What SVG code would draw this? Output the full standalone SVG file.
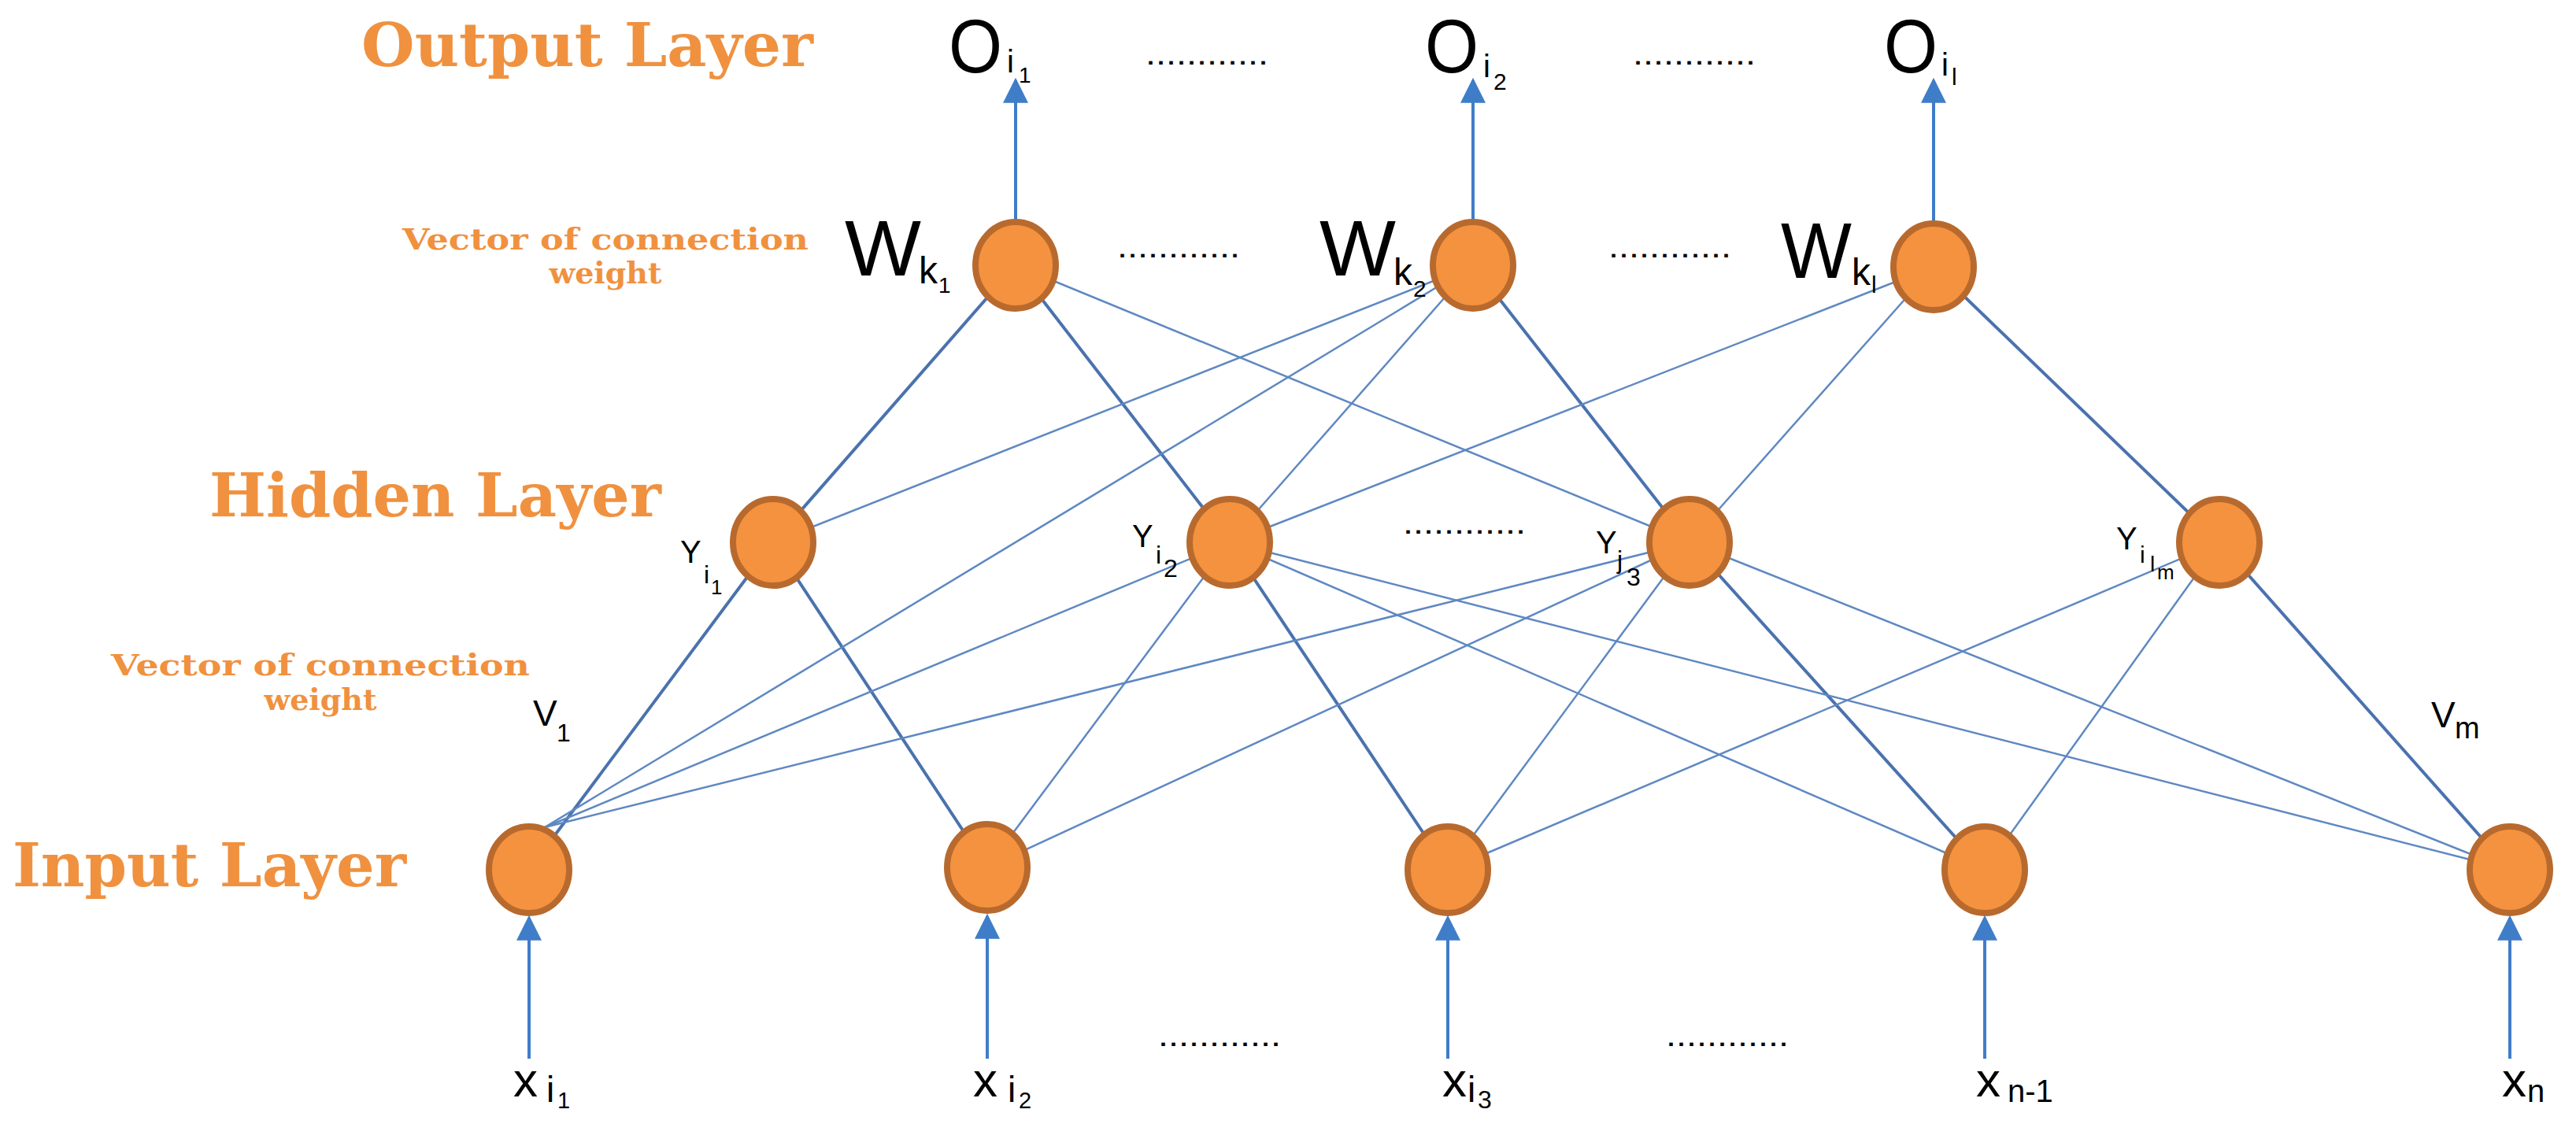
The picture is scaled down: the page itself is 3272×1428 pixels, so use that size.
<svg xmlns="http://www.w3.org/2000/svg" width="3272" height="1428" viewBox="0 0 3272 1428">
<style>
.node{fill:#F4923F;stroke:#B86A2E;stroke-width:8}
.thick{stroke:#4A72AE;stroke-width:4;fill:none}
.thin{stroke:#5F88C2;stroke-width:2.5;fill:none}
.arr{stroke:#3F7DC8;stroke-width:4;fill:none}
.lab{font-family:"DejaVu Serif","Liberation Serif",serif;font-weight:bold;fill:#F0913F}
.m{font-family:"Liberation Sans",Arial,sans-serif;fill:#000}
.dots{font-family:"Liberation Sans",Arial,sans-serif;font-size:40px;fill:#000}
</style>
<defs>
<marker id="ah" viewBox="0 0 10 10" refX="9" refY="5" markerWidth="8" markerHeight="8.5" orient="auto" markerUnits="strokeWidth">
<path d="M0,0 L10,5 L0,10 z" fill="#3F7DC8"/>
</marker>
</defs>
<rect width="3272" height="1428" fill="#fff"/>
<g id="connectors">
<line class="thick" x1="1290" y1="337" x2="982" y2="689"/>
<line class="thick" x1="1290" y1="337" x2="1562" y2="689"/>
<line class="thick" x1="1871" y1="337" x2="2146" y2="689"/>
<line class="thick" x1="2456" y1="339" x2="2819" y2="689"/>
<line class="thick" x1="982" y1="689" x2="672" y2="1105"/>
<line class="thick" x1="982" y1="689" x2="1254" y2="1102"/>
<line class="thick" x1="1562" y1="689" x2="1839" y2="1105"/>
<line class="thick" x1="2146" y1="689" x2="2521" y2="1105"/>
<line class="thick" x1="2819" y1="689" x2="3188" y2="1105"/>
<line class="thin" x1="1290" y1="337" x2="2146" y2="689"/>
<line class="thin" x1="1871" y1="337" x2="982" y2="689"/>
<line class="thin" x1="1871" y1="337" x2="1562" y2="689"/>
<line class="thin" x1="1871" y1="337" x2="692" y2="1051"/>
<line class="thin" x1="2456" y1="339" x2="1562" y2="689"/>
<line class="thin" x1="2456" y1="339" x2="2146" y2="689"/>
<line class="thin" x1="692" y1="1051" x2="1562" y2="689"/>
<line class="thin" x1="692" y1="1051" x2="2146" y2="689"/>
<line class="thin" x1="1254" y1="1102" x2="1562" y2="689"/>
<line class="thin" x1="1254" y1="1102" x2="2146" y2="689"/>
<line class="thin" x1="1562" y1="689" x2="2521" y2="1105"/>
<line class="thin" x1="1562" y1="689" x2="3188" y2="1105"/>
<line class="thin" x1="2146" y1="689" x2="1839" y2="1105"/>
<line class="thin" x1="2146" y1="689" x2="3188" y2="1105"/>
<line class="thin" x1="1839" y1="1105" x2="2819" y2="689"/>
<line class="thin" x1="2521" y1="1105" x2="2819" y2="689"/>
<line class="arr" x1="1290" y1="283" x2="1290" y2="102" marker-end="url(#ah)"/>
<line class="arr" x1="1871" y1="283" x2="1871" y2="102" marker-end="url(#ah)"/>
<line class="arr" x1="2456" y1="285" x2="2456" y2="102" marker-end="url(#ah)"/>
<line class="arr" x1="672" y1="1345" x2="672" y2="1166" marker-end="url(#ah)"/>
<line class="arr" x1="1254" y1="1345" x2="1254" y2="1164" marker-end="url(#ah)"/>
<line class="arr" x1="1839" y1="1345" x2="1839" y2="1166" marker-end="url(#ah)"/>
<line class="arr" x1="2521" y1="1345" x2="2521" y2="1166" marker-end="url(#ah)"/>
<line class="arr" x1="3188" y1="1345" x2="3188" y2="1166" marker-end="url(#ah)"/>
</g>
<g id="w1"><ellipse class="node" cx="1290" cy="337" rx="51" ry="55"/>
<text class="m" font-size="100" x="1073" y="350" textLength="97" lengthAdjust="spacingAndGlyphs">W</text><text class="m" font-size="48" x="1167" y="360">k</text><text class="m" font-size="28" x="1192" y="372">1</text></g>
<g id="w2"><ellipse class="node" cx="1871" cy="337" rx="51" ry="55"/>
<text class="m" font-size="100" x="1676" y="350" textLength="97" lengthAdjust="spacingAndGlyphs">W</text><text class="m" font-size="48" x="1770" y="362">k</text><text class="m" font-size="30" x="1795" y="377">2</text></g>
<g id="wl"><ellipse class="node" cx="2456" cy="339" rx="51" ry="55"/>
<text class="m" font-size="100" x="2262" y="353" textLength="90" lengthAdjust="spacingAndGlyphs">W</text><text class="m" font-size="48" x="2352" y="362">k</text><text class="m" font-size="30" x="2377" y="372">l</text></g>
<g id="y1"><ellipse class="node" cx="982" cy="689" rx="51" ry="55"/>
<text class="m" font-size="40" x="864" y="715">Y</text><text class="m" font-size="32" x="894" y="741">i</text><text class="m" font-size="26" x="903" y="755">1</text></g>
<g id="y2"><ellipse class="node" cx="1562" cy="689" rx="51" ry="55"/>
<text class="m" font-size="40" x="1438" y="695">Y</text><text class="m" font-size="32" x="1468" y="716">i</text><text class="m" font-size="32" x="1478" y="733">2</text></g>
<g id="y3"><ellipse class="node" cx="2146" cy="689" rx="51" ry="55"/>
<text class="m" font-size="40" x="2027" y="703">Y</text><text class="m" font-size="32" x="2054" y="722">j</text><text class="m" font-size="32" x="2066" y="744">3</text></g>
<g id="ylm"><ellipse class="node" cx="2819" cy="689" rx="51" ry="55"/>
<text class="m" font-size="40" x="2688" y="698">Y</text><text class="m" font-size="30" x="2718" y="715">i</text><text class="m" font-size="28" x="2731" y="726">l</text><text class="m" font-size="26" x="2740" y="736">m</text></g>
<g id="x1"><ellipse class="node" cx="672" cy="1105" rx="51" ry="55"/>
<text class="m" font-size="62" x="652" y="1393" textLength="31" lengthAdjust="spacingAndGlyphs">x</text><text class="m" font-size="46" x="694" y="1400">i</text><text class="m" font-size="29" x="708" y="1408">1</text></g>
<g id="x2"><ellipse class="node" cx="1254" cy="1102" rx="51" ry="55"/>
<text class="m" font-size="62" x="1236" y="1393" textLength="31" lengthAdjust="spacingAndGlyphs">x</text><text class="m" font-size="46" x="1280" y="1400">i</text><text class="m" font-size="29" x="1294" y="1408">2</text></g>
<g id="x3"><ellipse class="node" cx="1839" cy="1105" rx="51" ry="55"/>
<text class="m" font-size="62" x="1832" y="1393" textLength="31" lengthAdjust="spacingAndGlyphs">x</text><text class="m" font-size="46" x="1864" y="1400">i</text><text class="m" font-size="32" x="1877" y="1408">3</text></g>
<g id="x4"><ellipse class="node" cx="2521" cy="1105" rx="51" ry="55"/>
<text class="m" font-size="62" x="2510" y="1393" textLength="31" lengthAdjust="spacingAndGlyphs">x</text><text class="m" font-size="40" x="2550" y="1400">n-1</text></g>
<g id="x5"><ellipse class="node" cx="3188" cy="1105" rx="51" ry="55"/>
<text class="m" font-size="62" x="3178" y="1393" textLength="31" lengthAdjust="spacingAndGlyphs">x</text><text class="m" font-size="40" x="3210" y="1400">n</text></g>
<g id="outputs">
<text class="m" font-size="96" x="1205" y="92" textLength="68" lengthAdjust="spacingAndGlyphs">O</text><text class="m" font-size="40" x="1279" y="92">i</text><text class="m" font-size="28" x="1294" y="105">1</text>
<text class="m" font-size="96" x="1810" y="92" textLength="68" lengthAdjust="spacingAndGlyphs">O</text><text class="m" font-size="40" x="1884" y="98">i</text><text class="m" font-size="30" x="1897" y="114">2</text>
<text class="m" font-size="96" x="2393" y="92" textLength="68" lengthAdjust="spacingAndGlyphs">O</text><text class="m" font-size="40" x="2466" y="96">i</text><text class="m" font-size="30" x="2479" y="108">l</text>
</g>
<g id="v-labels">
<text class="m" font-size="46" x="677" y="922">V</text><text class="m" font-size="32" x="707" y="942">1</text>
<text class="m" font-size="46" x="3088" y="924">V</text><text class="m" font-size="38" x="3118" y="938">m</text>
</g>
<g id="dots">
<text class="dots" x="1455" y="82" textLength="156" lengthAdjust="spacingAndGlyphs">............</text>
<text class="dots" x="2074" y="82" textLength="156" lengthAdjust="spacingAndGlyphs">............</text>
<text class="dots" x="1419" y="327" textLength="156" lengthAdjust="spacingAndGlyphs">............</text>
<text class="dots" x="2043" y="327" textLength="156" lengthAdjust="spacingAndGlyphs">............</text>
<text class="dots" x="1782" y="678" textLength="156" lengthAdjust="spacingAndGlyphs">............</text>
<text class="dots" x="1471" y="1329" textLength="156" lengthAdjust="spacingAndGlyphs">............</text>
<text class="dots" x="2116" y="1329" textLength="156" lengthAdjust="spacingAndGlyphs">............</text>
</g>
<g id="layer-labels">
<text class="lab" font-size="76" x="459" y="84" textLength="574" lengthAdjust="spacingAndGlyphs">Output Layer</text>
<text class="lab" font-size="76" x="266" y="656" textLength="574" lengthAdjust="spacingAndGlyphs">Hidden Layer</text>
<text class="lab" font-size="76" x="16" y="1126" textLength="500" lengthAdjust="spacingAndGlyphs">Input Layer</text>
<text class="lab" font-size="38" x="511" y="317" textLength="516" lengthAdjust="spacingAndGlyphs">Vector of connection</text>
<text class="lab" font-size="38" x="769" y="360" text-anchor="middle">weight</text>
<text class="lab" font-size="38" x="141" y="858" textLength="532" lengthAdjust="spacingAndGlyphs">Vector of connection</text>
<text class="lab" font-size="38" x="407" y="902" text-anchor="middle">weight</text>
</g>
</svg>
